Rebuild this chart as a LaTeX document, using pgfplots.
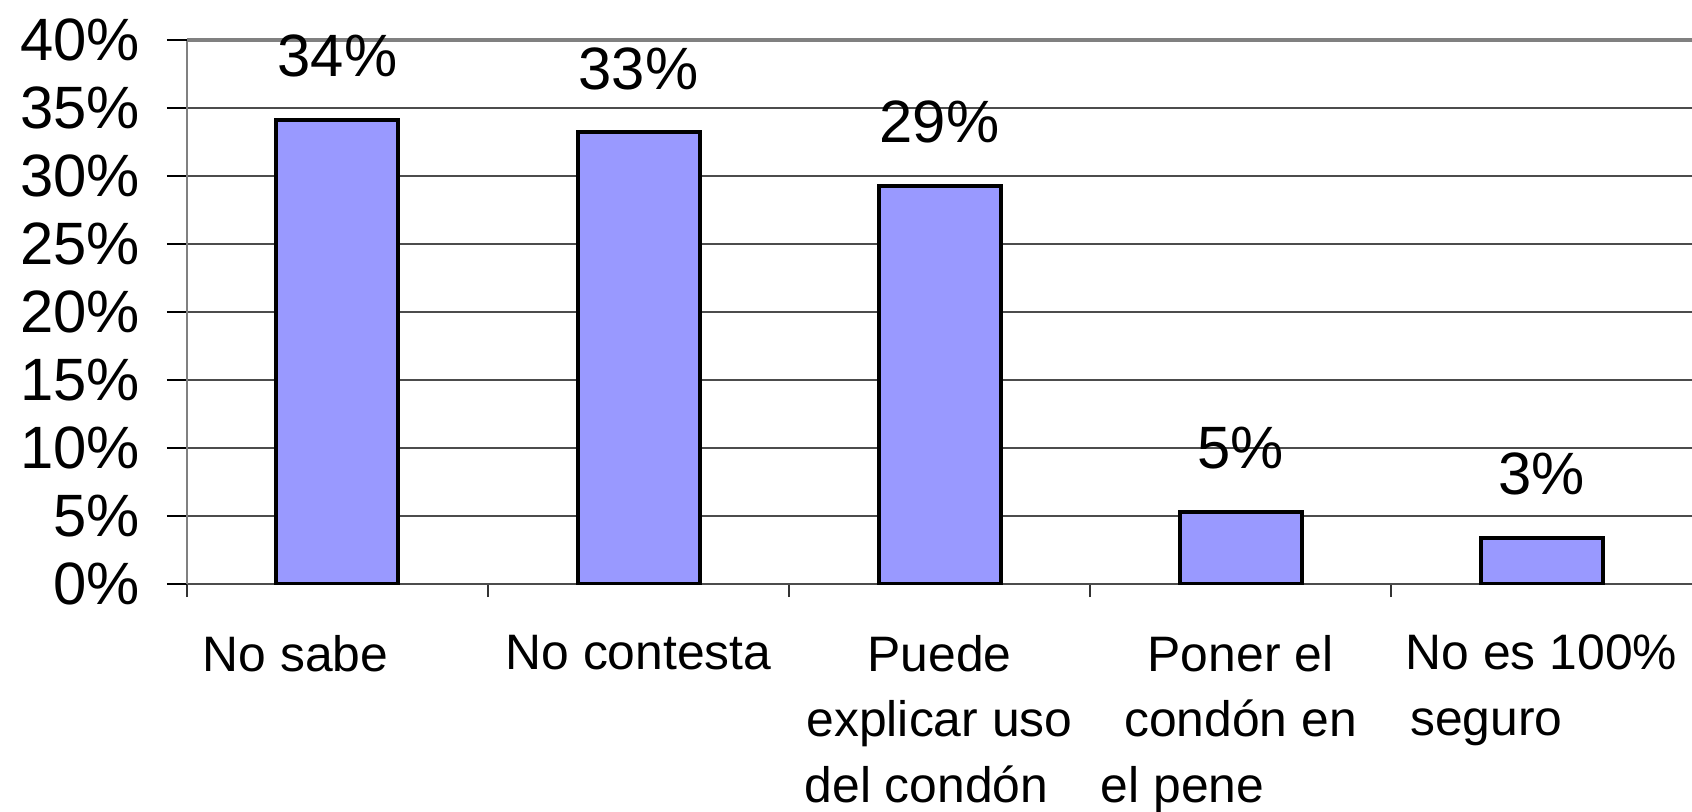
\documentclass[border=0pt]{standalone}
\usepackage{fontspec}
\setmainfont{Liberation Sans}
\usepackage{pgfplots}
\pgfplotsset{compat=1.18}
\definecolor{barfill}{HTML}{9999FF}
\begin{document}
\begin{tikzpicture}
\useasboundingbox (-93.5bp,-114bp) rectangle (752.5bp,292bp);
\begin{axis}[
  scale only axis, width=752.5bp, height=272bp,
  xmin=-0.5, xmax=4.5, ymin=0, ymax=40,
  /pgf/number format/assume math mode=true,
  axis lines=left, axis line style={-},
  x axis line style={draw=black!70, line width=1bp},
  y axis line style={draw=gray, line width=1.2bp},
  tick align=outside,
  ytick={0,5,...,35},
  extra y ticks={40}, extra y tick labels={40\%},
  extra y tick style={grid style={draw=gray, line width=2bp}},
  yticklabel={\pgfmathprintnumber{\tick}\%},
  ymajorgrids, grid style={draw=black!70, line width=0.6bp},
  major tick length=10bp, minor tick length=6.5bp,
  major y tick style={draw=black, line width=0.6bp},
  yticklabel style={font=\fontsize{30}{34}\selectfont, xshift=-10bp},
  xtick={0,1,2,3,4},
  major x tick style={draw=none},
  minor xtick={-0.5,0.5,1.5,2.5,3.5},
  minor x tick style={draw=black!80, line width=0.6bp},
  xticklabels={
    {\makebox[0pt]{\kern-42bp No sabe}},
    {No contesta},
    {Puede\\explicar uso\\\makebox[0pt]{\kern-13bp del condón}},
    {Poner el\\condón en\\\makebox[0pt]{\kern-58bp el pene}},
    {No es 100\%\\\makebox[0pt]{\kern-55bp seguro}}},
  xticklabel style={align=center, font=\fontsize{25}{33}\selectfont, anchor=north, yshift=-12bp},
  ybar, bar width=61bp,
  nodes near coords={\pgfmathprintnumber[fixed,precision=0]{\pgfplotspointmeta}\%},
  nodes near coords style={font=\fontsize{30}{34}\selectfont, anchor=center, yshift=32bp},
]
\addplot[fill=barfill, draw=black, line width=2bp] coordinates {
  (0,34.1) (1,33.2) (2,29.3) (3,5.3) (4,3.4)
};
\end{axis}
\end{tikzpicture}
\end{document}
